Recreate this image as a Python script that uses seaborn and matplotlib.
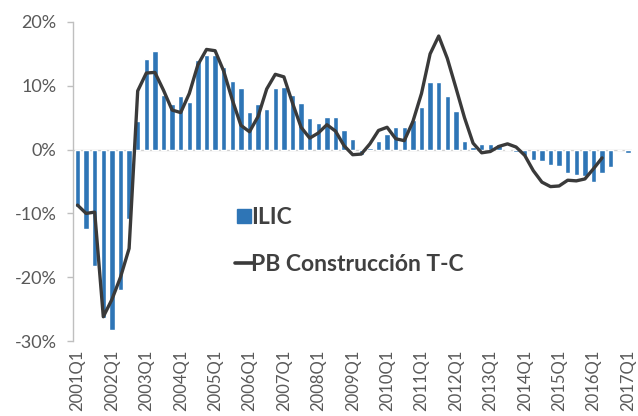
import numpy as np
import pandas as pd
import matplotlib
matplotlib.use("Agg")
import matplotlib.pyplot as plt
from matplotlib.lines import Line2D
import seaborn as sns

years = list(range(2001, 2018))
quarters = [f"{y}Q{q}" for y in years for q in range(1, 5)][:65]

ilic = [-9.0, -12.5, -18.3, -26.4, -28.2, -22.0, -10.8, 4.5,
        14.2, 15.4, 8.6, 7.2, 8.4, 7.4, 14.0, 14.8,
        14.8, 13.0, 10.8, 9.6, 5.9, 7.1, 6.4, 9.6,
        9.8, 8.6, 7.3, 5.0, 4.1, 5.1, 5.1, 3.0,
        1.7, -0.8, 0.2, 1.4, 2.5, 3.6, 3.6, 4.6,
        6.7, 10.6, 10.6, 8.4, 6.1, 1.3, 0.4, 0.9,
        0.9, 0.9, 0.1, -0.3, -1.0, -1.6, -1.8, -2.4,
        -2.6, -3.7, -4.0, -4.1, -5.1, -3.6, -2.8, 0.0,
        -0.5]

pb_construccion = [-8.7, -10.0, -9.8, -26.2, -23.5, -20.0, -15.5, 9.2,
                   12.0, 12.1, 9.3, 6.2, 5.8, 8.8, 13.3, 15.7,
                   15.5, 12.3, 7.8, 3.8, 2.8, 5.2, 9.5, 11.8,
                   11.4, 7.3, 3.5, 1.8, 2.6, 3.9, 2.9, 0.6,
                   -0.8, -0.7, 0.9, 3.0, 3.5, 1.7, 1.4, 4.4,
                   8.8, 15.0, 17.8, 14.3, 9.7, 5.0, 1.0, -0.5,
                   -0.3, 0.5, 0.9, 0.4, -0.9, -3.3, -5.1, -5.8,
                   -5.7, -4.8, -4.9, -4.6, -3.0, -1.3, np.nan, np.nan,
                   np.nan]

tick_labels = [f"{y}Q1" for y in years]

df = pd.DataFrame({"quarter": quarters, "ilic": ilic, "pb": pb_construccion})
df["pos"] = np.arange(len(df))

BLUE = "#2E75B6"
LINE = "#3A3A3A"
GRAY_TXT = "#595959"
AXIS = "#BFBFBF"

sns.set_theme(style="white")
plt.rcParams["font.family"] = ["Lato", "DejaVu Sans"]

fig = plt.figure(figsize=(6.38, 4.16), dpi=100)
ax = fig.add_axes([73.2 / 638, 75 / 416, 559 / 638, 319 / 416])

sns.barplot(data=df, x="quarter", y="ilic", color=BLUE, saturation=1,
            width=0.64, ax=ax, legend=False)
sns.lineplot(data=df, x="pos", y="pb", color=LINE, linewidth=2.4, ax=ax,
             legend=False)
for ln in ax.lines:
    ln.set_solid_joinstyle("round")
    ln.set_solid_capstyle("round")

ax.axhline(0, color="#D0D0D0", linewidth=1.0, zorder=0.5)

ax.set_xlim(-0.5, 64.5)
ax.set_ylim(-30, 20)
ax.set_yticks([20, 10, 0, -10, -20, -30])
ax.set_yticklabels(["20%", "10%", "0%", "-10%", "-20%", "-30%"])
ax.set_xticks(np.arange(0, 65, 4))
ax.set_xticklabels(tick_labels, rotation=90, va="top", ha="center")
ax.set_xlabel("")
ax.set_ylabel("")

for s in ["top", "right", "bottom"]:
    ax.spines[s].set_visible(False)
ax.spines["left"].set_color(AXIS)
ax.spines["left"].set_linewidth(1.0)

ax.tick_params(axis="y", which="major", left=True, length=4, width=1,
               color=AXIS, direction="out", pad=8, labelsize=13,
               labelcolor=GRAY_TXT)
ax.tick_params(axis="x", which="major", bottom=False, length=0, pad=6,
               labelsize=12, labelcolor=GRAY_TXT)

handles = [
    Line2D([], [], marker="s", linestyle="none", markersize=10,
           markerfacecolor=BLUE, markeredgecolor=BLUE),
    Line2D([], [], color=LINE, linewidth=2.6),
]
leg = fig.legend(handles, ["ILIC", "PB Construcción T-C"],
                 loc="upper left", bbox_to_anchor=(219 / 638, 1 - 191 / 416),
                 frameon=False, handlelength=0.8, handletextpad=-0.1,
                 labelspacing=1.15, borderpad=0.2,
                 prop={"family": ["Lato", "DejaVu Sans"], "weight": "bold",
                       "size": 16.5})
for t in leg.get_texts():
    t.set_color("#404040")

fig.savefig("out.png", dpi=100)
